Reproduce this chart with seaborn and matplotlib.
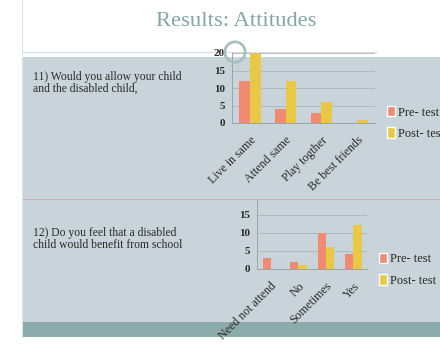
import matplotlib
matplotlib.use("Agg")
import matplotlib.pyplot as plt
import seaborn as sns
import pandas as pd
from matplotlib.patches import Rectangle, Circle
from matplotlib.lines import Line2D

# ---- data ----
q11_categories = ["Live in same", "Attend same", "Play togther", "Be best friends"]
q11_pre = [12, 4, 3, 0]
q11_post = [20, 12, 6, 1]

q12_categories = ["Need not attend", "No", "Sometimes", "Yes"]
q12_pre = [3, 2, 10, 4]
q12_post = [0, 1, 6, 12]

series_names = ["Pre- test", "Post- test"]
title_text = "Results: Attitudes"
q11_text = "11) Would you allow your child\nand the disabled child,"
q12_text = "12) Do you feel that a disabled\nchild would benefit from school"

PRE_C = "#f08a70"
POST_C = "#e8c844"
PANEL = "#c9d4da"
TEAL = "#8aaba9"
FONT = ["Liberation Serif", "DejaVu Serif"]

sns.set_theme(style="white")
plt.rcParams["font.family"] = FONT

W, H = 440, 344
fig = plt.figure(figsize=(W / 100, H / 100), dpi=100)
fig.patch.set_facecolor("white")


def fx(px):
    return px / W


def fy(py):
    return 1 - py / H


# background panel, divider, teal band (behind the axes)
fig.patches.append(Rectangle((fx(22), fy(322)), fx(440 - 22), (322 - 57) / H,
                             transform=fig.transFigure, facecolor=PANEL, edgecolor="none", zorder=-3))
fig.patches.append(Rectangle((fx(22), fy(337)), fx(440 - 22), 15 / H,
                             transform=fig.transFigure, facecolor=TEAL, edgecolor="none", zorder=-3))
fig.lines.append(Line2D([fx(22), 1], [fy(199), fy(199)], transform=fig.transFigure,
                        color="#d8a4a4", lw=0.6, zorder=-2))
fig.lines.append(Line2D([fx(22), fx(22)], [fy(0), fy(337)], transform=fig.transFigure,
                        color="#dde4e6", lw=0.8, zorder=-2))
fig.lines.append(Line2D([fx(22), fx(377)], [fy(52), fy(52)], transform=fig.transFigure,
                        color="#d8dfe2", lw=0.8, zorder=-2))

fig.text(fx(236), fy(21), title_text, ha="center", va="center", fontsize=16.2,
         color="#86a6a6", family=FONT)
fig.text(fx(33), fy(71), q11_text, ha="left", va="top", fontsize=8.4,
         color="#2a2a2a", family=FONT, linespacing=1.0)
fig.text(fx(33), fy(227), q12_text, ha="left", va="top", fontsize=8.4,
         color="#2a2a2a", family=FONT, linespacing=1.0)


def make_chart(left, right, zero_y, top_y, cats, pre, post, ymax, yticks, leg_x, leg_y):
    ax = fig.add_axes([fx(left), fy(zero_y), fx(right - left), (zero_y - top_y) / H])
    ax.patch.set_alpha(0)
    df = pd.DataFrame({
        "cat": cats * 2,
        "val": pre + post,
        "series": [series_names[0]] * len(cats) + [series_names[1]] * len(cats),
    })
    sns.barplot(data=df, x="cat", y="val", hue="series", order=cats,
                hue_order=series_names, palette=[PRE_C, POST_C], width=0.6,
                saturation=1, ax=ax, zorder=3, edgecolor="none", linewidth=0)
    ax.set_ylim(0, ymax)
    ax.set_xlim(-0.5, len(cats) - 0.5)
    ax.set_yticks(yticks)
    ax.set_yticklabels([str(t) for t in yticks], fontsize=8, fontweight="bold",
                       color="#2a2a2a", family=FONT)
    for t in yticks[1:]:
        ax.axhline(t, color="#aab4b8", lw=0.6, zorder=1)
    ax.set_xlabel("")
    ax.set_ylabel("")
    ax.set_xticks(range(len(cats)))
    ax.set_xticklabels(cats, rotation=45, ha="right", rotation_mode="anchor",
                       fontsize=8.6, color="#2a2a2a", family=FONT)
    ax.set_xticks([i - 0.5 for i in range(len(cats) + 1)], minor=True)
    ax.tick_params(axis="x", which="major", length=0, pad=8)
    ax.tick_params(axis="x", which="minor", length=3, color="#9aa4a8", width=0.6)
    ax.tick_params(axis="y", length=0, pad=5)
    for s in ["top", "right"]:
        ax.spines[s].set_visible(False)
    for s in ["left", "bottom"]:
        ax.spines[s].set_color("#9aa4a8")
        ax.spines[s].set_linewidth(0.7)
    leg = ax.get_legend()
    handles = [Rectangle((0, 0), 1, 1, facecolor=PRE_C), Rectangle((0, 0), 1, 1, facecolor=POST_C)]
    if leg is not None:
        leg.remove()
    fig.legend(handles, series_names, loc="upper left",
               bbox_to_anchor=(fx(leg_x), fy(leg_y)), bbox_transform=fig.transFigure,
               frameon=False, handlelength=0.6, handleheight=0.9, handletextpad=0.3,
               labelspacing=0.7, borderpad=0, borderaxespad=0,
               prop={"family": FONT, "size": 9})
    return ax


make_chart(232, 375, 123, 53, q11_categories, q11_pre, q11_post, 20, [0, 5, 10, 15, 20], 387, 106)
make_chart(257, 367, 269, 200, q12_categories, q12_pre, q12_post, 19, [0, 5, 10, 15], 379, 253)

# ring marker near the top of the first chart
ring_ax = fig.add_axes([fx(222), fy(65), fx(26), 26 / H])
ring_ax.set_xlim(-1, 1)
ring_ax.set_ylim(-1, 1)
ring_ax.set_aspect("equal")
ring_ax.axis("off")
ring_ax.add_patch(Circle((0, 0), 0.78, facecolor="none", edgecolor="#a8bfc0", lw=2.0))

fig.savefig("out.png", dpi=100, facecolor="white")
